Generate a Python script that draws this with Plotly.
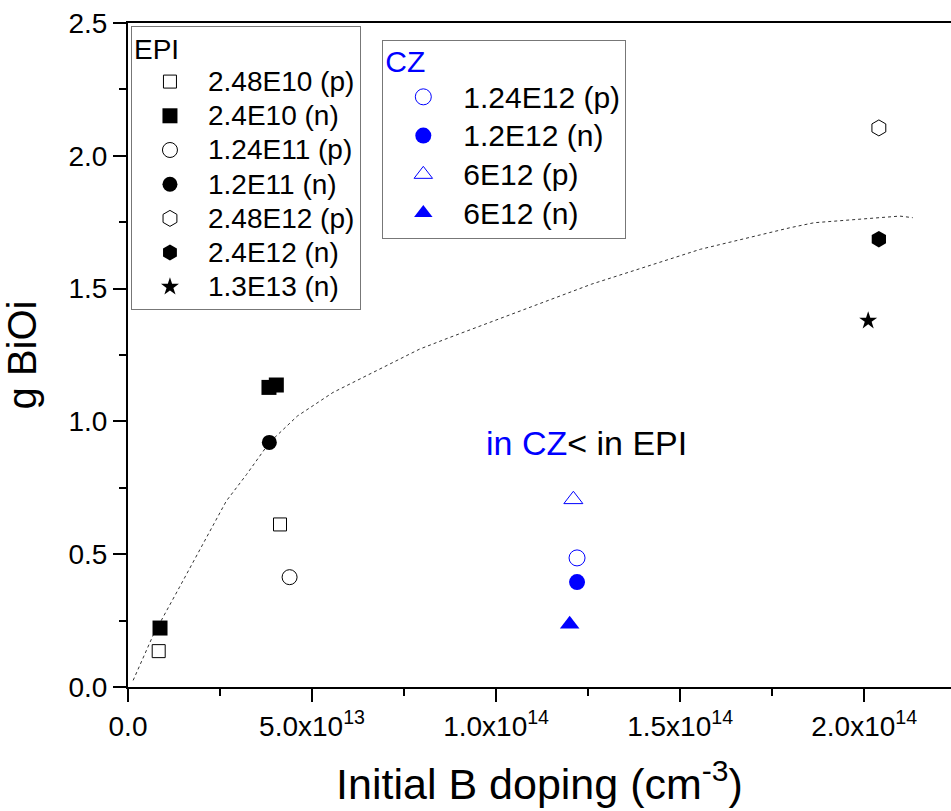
import plotly.graph_objects as go

FONT = "Liberation Sans, Arial, sans-serif"
BLUE = "#0000FF"

# ---- data (x: initial B doping, cm^-3 ; y: g BiOi) ----
epi_names = ["2.48E10 (p)", "2.4E10 (n)", "1.24E11 (p)", "1.2E11 (n)",
             "2.48E12 (p)", "2.4E12 (n)", "1.3E13 (n)"]
epi_x = [[8.34e12, 4.13e13],
         [8.7e12, 3.83e13, 4.03e13],
         [4.39e13],
         [3.84e13],
         [2.04e14],
         [2.04e14],
         [2.011e14]]
epi_y = [[0.135, 0.612],
         [0.222, 1.128, 1.137],
         [0.4135],
         [0.921],
         [2.105],
         [1.686],
         [1.379]]

cz_names = ["1.24E12 (p)", "1.2E12 (n)", "6E12 (p)", "6E12 (n)"]
cz_x = [[1.22e14], [1.22e14], [1.21e14], [1.20e14]]
cz_y = [[0.486], [0.395], [0.706], [0.236]]

fit_x = [0.14e13, 0.68e13, 1.4e13, 1.95e13, 2.67e13, 3.22e13, 3.84e13, 4.6e13,
         5.57e13, 7.92e13, 8.74e13, 12.6e13, 15.55e13, 17.98e13, 18.64e13,
         20.97e13, 21.32e13]
fit_y = [0.025, 0.194, 0.376, 0.514, 0.70, 0.80, 0.92, 1.02,
         1.109, 1.272, 1.316, 1.517, 1.648, 1.729, 1.748,
         1.773, 1.767]

x_tickvals = [0, 5e13, 1e14, 1.5e14, 2e14]
x_ticktext = ["0.0", "5.0x10<sup>13</sup>", "1.0x10<sup>14</sup>",
              "1.5x10<sup>14</sup>", "2.0x10<sup>14</sup>"]

# ---- styles ----
epi_styles = [
    dict(symbol="square", size=13, color="white", line=dict(color="black", width=1)),
    dict(symbol="square", size=15, color="black", line=dict(color="black", width=0)),
    dict(symbol="circle", size=15, color="white", line=dict(color="black", width=1)),
    dict(symbol="circle", size=15, color="black", line=dict(color="black", width=0)),
    dict(symbol="hexagon", size=16, color="white", line=dict(color="black", width=1)),
    dict(symbol="hexagon", size=16.5, color="black", line=dict(color="black", width=0)),
    dict(symbol="star", size=13.5, color="black", line=dict(color="black", width=0)),
]
cz_styles = [
    dict(symbol="circle", size=16, color="white", line=dict(color=BLUE, width=1)),
    dict(symbol="circle", size=16, color=BLUE, line=dict(color=BLUE, width=0)),
    dict(symbol="triangle-up", size=16.5, color="white", line=dict(color=BLUE, width=1)),
    dict(symbol="triangle-up", size=17, color=BLUE, line=dict(color=BLUE, width=0)),
]

fig = go.Figure()

fig.add_trace(go.Scatter(x=fit_x, y=fit_y, mode="lines", showlegend=False,
                         line=dict(color="#333333", width=1, dash="3px,3px"),
                         hoverinfo="skip"))

for name, xs, ys, st in zip(epi_names, epi_x, epi_y, epi_styles):
    fig.add_trace(go.Scatter(
        x=xs, y=ys, mode="markers", marker=st, legend="legend",
        name="<span style='font-size:28px'>" + name + "</span>"))

for name, xs, ys, st in zip(cz_names, cz_x, cz_y, cz_styles):
    fig.add_trace(go.Scatter(
        x=xs, y=ys, mode="markers", marker=st, legend="legend2",
        name="<span style='font-size:30px'>" + name + "</span>"))

fig.add_annotation(x=1.246e14, y=0.92, xref="x", yref="y", showarrow=False,
                   text="<span style='color:#0000FF'>in CZ</span>&lt; in EPI",
                   font=dict(family=FONT, size=34, color="black"))

axis_common = dict(showline=True, linecolor="black", linewidth=2,
                   ticks="outside", ticklen=13, tickwidth=2, tickcolor="black",
                   showgrid=False, zeroline=False,
                   tickfont=dict(family=FONT, size=28, color="black"))

fig.update_layout(
    width=951, height=811,
    margin=dict(l=128, r=0, t=23, b=124),
    paper_bgcolor="white", plot_bgcolor="white",
    font=dict(family=FONT, color="black"),
    xaxis=dict(range=[0, 2.236e14], tickmode="array", tickvals=x_tickvals,
               ticktext=x_ticktext, mirror=True,
               minor=dict(ticks="outside", ticklen=7, tickwidth=2, tickcolor="black",
                          tickmode="linear", tick0=0, dtick=2.5e13),
               title=dict(text="Initial B doping (cm<sup>-3</sup>)",
                          font=dict(family=FONT, size=43, color="black"),
                          standoff=28),
               **axis_common),
    yaxis=dict(range=[0, 2.5], tickmode="linear", tick0=0, dtick=0.5,
               tickformat=".1f",
               minor=dict(ticks="outside", ticklen=7, tickwidth=2, tickcolor="black",
                          tickmode="linear", tick0=0, dtick=0.25),
               title=dict(text="g BiOi",
                          font=dict(family=FONT, size=40, color="black"),
                          standoff=20),
               **axis_common),
    legend=dict(x=0.0036, y=0.9955, xanchor="left", yanchor="top",
                bgcolor="white", bordercolor="#777777", borderwidth=1,
                itemwidth=66, tracegroupgap=0,
                font=dict(family=FONT, size=24, color="black"),
                title=dict(text="<span style='font-size:28px'>EPI</span>",
                           font=dict(family=FONT, size=25, color="black"))),
    legend2=dict(x=0.309, y=0.974, xanchor="left", yanchor="top",
                 bgcolor="white", bordercolor="#777777", borderwidth=1,
                 itemwidth=70, tracegroupgap=0,
                 font=dict(family=FONT, size=27.5, color="black"),
                 title=dict(text="<span style='font-size:30px'>CZ</span>",
                            font=dict(family=FONT, size=24, color=BLUE))),
)

fig.write_html("out.html",
               config={"displayModeBar": False},
               post_script="document.body.style.margin='0px';"
                           "document.body.style.padding='0px';")
